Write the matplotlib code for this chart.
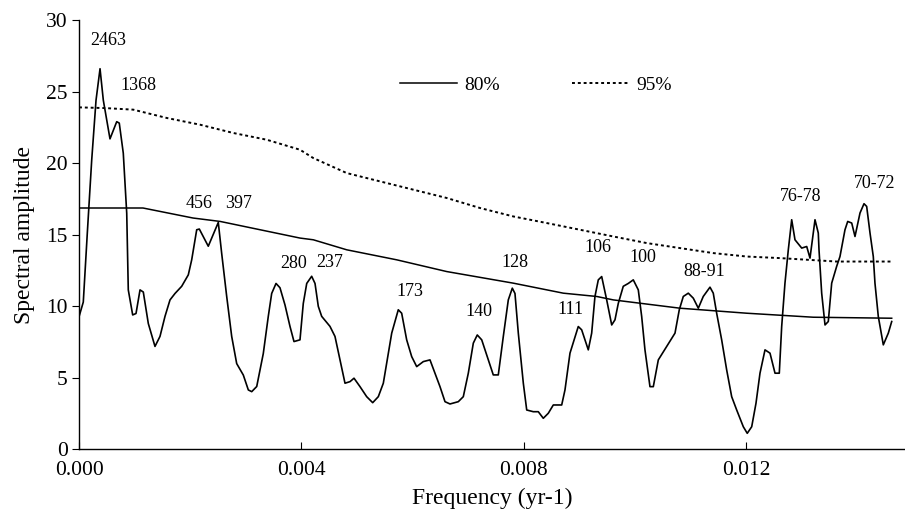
import matplotlib
matplotlib.use("Agg")
import matplotlib.pyplot as plt
from matplotlib.ticker import FormatStrFormatter

plt.rcParams['font.family'] = ['Liberation Serif', 'DejaVu Serif']

# spectre (frequence en 1e-3 an-1, amplitude)
freq_spec = [0.000, 0.077, 0.149, 0.228, 0.306, 0.378, 0.437, 0.557, 0.678, 0.724,
             0.796, 0.858, 0.886, 0.965, 1.025, 1.097, 1.156, 1.246, 1.366, 1.456,
             1.546, 1.636, 1.726, 1.846, 1.965, 2.026, 2.116, 2.163, 2.324, 2.504,
             2.565, 2.655, 2.745, 2.835, 2.954, 3.044, 3.105, 3.195, 3.313, 3.403,
             3.464, 3.542, 3.613, 3.703, 3.793, 3.865, 3.973, 4.032, 4.094, 4.183,
             4.243, 4.302, 4.363, 4.512, 4.602, 4.692, 4.782, 4.872, 4.944, 5.052,
             5.172, 5.280, 5.381, 5.471, 5.532, 5.622, 5.740, 5.801, 5.891, 5.981,
             6.071, 6.190, 6.310, 6.400, 6.490, 6.580, 6.670, 6.819, 6.909, 6.999,
             7.089, 7.160, 7.240, 7.358, 7.448, 7.538, 7.628, 7.718, 7.790, 7.838,
             7.898, 7.988, 8.049, 8.167, 8.257, 8.347, 8.437, 8.527, 8.678, 8.737,
             8.827, 8.976, 9.037, 9.156, 9.217, 9.276, 9.336, 9.397, 9.487, 9.577,
             9.636, 9.695, 9.785, 9.875, 9.965, 10.055, 10.116, 10.175, 10.265, 10.325,
             10.415, 10.565, 10.715, 10.792, 10.864, 10.954, 11.044, 11.134, 11.223, 11.344,
             11.403, 11.464, 11.554, 11.644, 11.734, 11.824, 11.943, 12.014, 12.094, 12.171,
             12.243, 12.333, 12.423, 12.513, 12.590, 12.633, 12.692, 12.752, 12.813, 12.872,
             12.993, 13.083, 13.142, 13.232, 13.291, 13.304, 13.352, 13.412, 13.471, 13.532,
             13.622, 13.681, 13.771, 13.820, 13.892, 13.951, 14.041, 14.113, 14.161, 14.221,
             14.280, 14.310, 14.370, 14.460, 14.550, 14.611]
amp_spec = [9.27, 10.3, 15.1, 20.2, 24.4, 26.6, 24.4, 21.7, 22.9, 22.8,
            20.7, 16.5, 11.15, 9.4, 9.5, 11.15, 11.0, 8.8, 7.2, 7.9,
            9.3, 10.45, 10.9, 11.4, 12.2, 13.25, 15.35, 15.4, 14.2, 15.86,
            13.7, 10.7, 7.9, 6.0, 5.2, 4.16, 4.04, 4.4, 6.7, 9.3,
            10.9, 11.6, 11.3, 10.1, 8.6, 7.54, 7.66, 10.2, 11.6, 12.1,
            11.6, 10.0, 9.3, 8.6, 7.9, 6.26, 4.63, 4.74, 4.98, 4.39,
            3.69, 3.27, 3.69, 4.63, 6.03, 8.13, 9.76, 9.52, 7.66, 6.49,
            5.79, 6.14, 6.26, 5.33, 4.39, 3.34, 3.18, 3.34, 3.69, 5.33,
            7.43, 8.0, 7.66, 6.26, 5.21, 5.21, 7.89, 10.45, 11.27, 10.9,
            8.13, 4.63, 2.76, 2.64, 2.64, 2.18, 2.53, 3.11, 3.11, 4.16,
            6.73, 8.59, 8.36, 6.96, 8.13, 10.69, 11.85, 12.08, 10.45, 8.7,
            9.06, 10.2, 11.4, 11.6, 11.85, 11.15, 9.29, 6.96, 4.39, 4.39,
            6.26, 7.19, 8.13, 9.76, 10.69, 10.92, 10.57, 9.87, 10.69, 11.34,
            10.92, 9.52, 7.66, 5.56, 3.69, 2.76, 1.59, 1.13, 1.59, 3.23,
            5.33, 6.96, 6.73, 5.33, 5.33, 8.59, 11.62, 13.95, 16.05, 14.65,
            14.07, 14.18, 13.37, 16.05, 15.12, 13.95, 10.92, 8.7, 8.94, 11.62,
            12.8, 13.48, 15.35, 15.93, 15.82, 14.88, 16.52, 17.17, 16.98, 15.12,
            13.48, 11.62, 9.29, 7.31, 8.13, 8.94]

# seuil 80%
freq_80 = [0.000, 1.150, 2.050, 2.540, 3.973, 4.212, 4.813, 5.712, 6.611, 7.808,
           8.707, 9.307, 9.606, 10.805, 12.004, 13.201, 14.611]
amp_80 = [16.87, 16.87, 16.17, 15.93, 14.77, 14.65, 13.95, 13.25, 12.43, 11.62,
          10.92, 10.69, 10.45, 9.87, 9.52, 9.24, 9.17]

# seuil 95%
freq_95 = [0.000, 0.467, 0.976, 1.577, 2.175, 2.774, 3.374, 3.973, 4.212, 4.813,
           5.411, 6.010, 6.611, 7.209, 7.808, 8.408, 9.007, 9.606, 10.206, 10.805,
           11.403, 12.004, 12.603, 13.622, 14.611]
amp_95 = [23.9, 23.85, 23.74, 23.16, 22.69, 22.11, 21.64, 20.94, 20.36, 19.31,
          18.73, 18.15, 17.57, 16.87, 16.28, 15.82, 15.35, 14.88, 14.42, 14.07,
          13.72, 13.48, 13.37, 13.13, 13.13]

# periodes annotees
labels = ['2463', '1368', '456', '397', '280', '237', '173', '140', '128', '111',
          '106', '100', '88-91', '76-78', '70-72']
lab_x = [0.534, 1.066, 2.163, 2.864, 3.865, 4.50, 5.95, 7.197, 7.838, 8.84,
         9.33, 10.145, 11.236, 12.98, 14.30]
lab_y = [28.6, 25.4, 17.2, 17.2, 13.0, 13.06, 11.04, 9.64, 13.06, 9.8,
         14.09, 13.44, 12.43, 17.68, 18.57]

fig = plt.figure(figsize=(9.05, 5.14), dpi=100)
ax = fig.add_axes([0.0873, 0.1255, 0.9127, 0.8355])

fx = [f * 1e-3 for f in freq_spec]
ax.plot(fx, amp_spec, color='black', lw=1.2)
ax.plot([f * 1e-3 for f in freq_80], amp_80, color='black', lw=1.1, label='80%')
ax.plot([f * 1e-3 for f in freq_95], amp_95, color='black', lw=1.4,
        linestyle=(0, (1.5, 1.5)), label='95%')

for t, x, y in zip(labels, lab_x, lab_y):
    ax.text(x * 1e-3, y, t, ha='center', va='center', fontsize=13)

ax.set_xlim(0, 0.01485)
ax.set_ylim(0, 30)
ax.set_xticks([0.0, 0.004, 0.008, 0.012])
ax.xaxis.set_major_formatter(FormatStrFormatter('%.3f'))
ax.set_yticks([0, 5, 10, 15, 20, 25, 30])

for s in ['top', 'right']:
    ax.spines[s].set_visible(False)
ax.spines['left'].set_linewidth(1.0)
ax.spines['bottom'].set_linewidth(1.0)
ax.tick_params(axis='y', direction='out', length=5, labelsize=15.5, pad=3)
ax.tick_params(axis='x', direction='in', length=5, labelsize=15.5, pad=8)

ax.set_xlabel('Frequency (yr-1)', fontsize=17, labelpad=6)
ax.set_ylabel('Spectral amplitude', fontsize=17, labelpad=8)

ax.legend(loc='center left', bbox_to_anchor=(0.389, 0.849), ncol=2, frameon=False,
          fontsize=14, handlelength=2.9, columnspacing=3.7, handletextpad=0.4,
          borderpad=0, borderaxespad=0)

fig.savefig('out.png', dpi=100)
